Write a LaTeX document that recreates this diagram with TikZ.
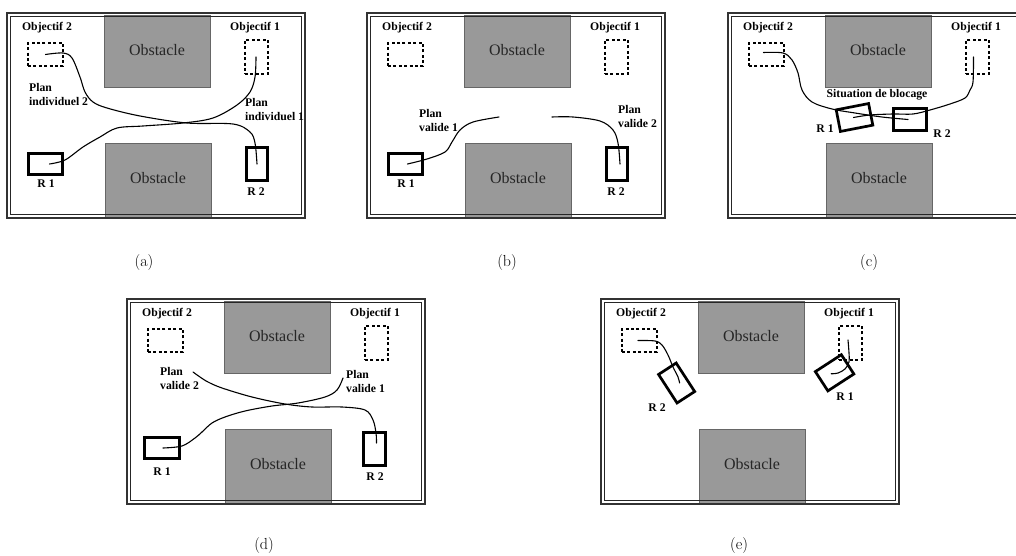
\documentclass[tikz,border=0pt]{standalone}
\usepackage{fontspec}
\newfontfamily\tnr{Liberation Serif}
\tikzset{
  lbl/.style={font=\tnr\bfseries\fontsize{11.7}{14}\selectfont, inner sep=0pt, align=left},
  obsbox/.style={fill=black!40, draw=black!60, line width=0.8pt},
  obstxt/.style={font=\tnr\fontsize{16}{18}\selectfont, text=black!85, inner sep=0pt},
  goal/.style={draw, line width=2.8pt, dash pattern=on 3pt off 2.4pt, inner sep=0pt},
  robot/.style={draw, line width=2.7pt, inner sep=0pt},
  trajet/.style={line width=1.1pt, line join=round, line cap=round},
  legende/.style={font=\fontsize{16}{18}\selectfont, inner sep=0pt}
}
\newcommand\panelbase[3]{%
  \begin{scope}[shift={(#2,#3)}]
    \path[obsbox] (97,2) rectangle (203,74);
    \node[obstxt] (#1obsA) at (150,37) {Obstacle};
    \path[obsbox] (98,130) rectangle (204,204);
    \node[obstxt] (#1obsB) at (151,165) {Obstacle};
    \draw[line width=2pt, black!80] (0,0) rectangle (298,205);
    \draw[line width=0.8pt, black!85] (3.2,3.2) rectangle (294.8,201.8);
    \node[lbl] (#1lo2) at (40,15) {Objectif 2};
    \node[lbl] (#1lo1) at (248,15) {Objectif 1};
    \node[goal, minimum width=35pt, minimum height=23pt] (#1O2) at (38.5,41.5) {};
    \node[goal, minimum width=23pt, minimum height=34pt] (#1O1) at (249.5,44) {};
  \end{scope}}
\begin{document}
\begin{tikzpicture}[x=1pt,y=-1pt]
\useasboundingbox (0,0) rectangle (1016,556);
\clip (0,0) rectangle (1016,556);

% ---------------- (a)
\panelbase{a}{7}{13}
\node[robot, minimum width=34pt, minimum height=21pt] (aR1) at (45.5,164) {};
\node[robot, minimum width=21pt, minimum height=33pt] (aR2) at (257,164) {};
\node[lbl] (aRl1) at (46,184) {R 1};
\node[lbl] (aRl2) at (256,192) {R 2};
\node[lbl, anchor=west] (aP2) at (29,95) {Plan\\individuel 2};
\node[lbl, anchor=west] (aP1) at (245,110) {Plan\\individuel 1};
\draw[trajet] plot[smooth, tension=0.55] coordinates {(aO2.center) (63,53) (72,58) (80,77) (85,92) (93,102) (107,108) (140,116) (187,123) (233,124) (250,132) (255,143) (aR2.center)};
\draw[trajet] plot[smooth, tension=0.55] coordinates {([xshift=4pt]aR1.center) (65,160) (83,147) (100,137) (117,128) (143,126) (183,123) (213,118) (237,105) (250,92) (255,77) ([xshift=-0.5pt]aO1.center)};
\node[legende] (capa) at (144,263) {(a)};

% ---------------- (b)
\panelbase{b}{367}{13}
\node[robot, minimum width=34pt, minimum height=21pt] (bR1) at (405.5,164) {};
\node[robot, minimum width=21pt, minimum height=33pt] (bR2) at (617,164) {};
\node[lbl] (bRl1) at (406,184) {R 1};
\node[lbl] (bRl2) at (616,192) {R 2};
\node[lbl, anchor=west] (bP1) at (419,120) {Plan\\valide 1};
\node[lbl, anchor=west] (bP2) at (618,116) {Plan\\valide 2};
\coordinate (bE1) at (499,117);
\coordinate (bE2) at (552,117);
\draw[trajet] plot[smooth, tension=0.55] coordinates {([xshift=2pt]bR1.center) (427,159) (445,152) (452,142) (460,130) (473,122) (bE1)};
\draw[trajet] plot[smooth, tension=0.55] coordinates {(bE2) (573,117) (600,121) (613,130) (618,143) ([xshift=3pt]bR2.center)};
\node[legende] (capb) at (507,263) {(b)};

% ---------------- (c)
\panelbase{c}{728}{13}
\node[robot, rotate=11, minimum width=33pt, minimum height=22pt] (cR1) at (854.5,117.5) {};
\node[robot, minimum width=33pt, minimum height=22pt] (cR2) at (910,119.5) {};
\node[lbl] (cSit) at (877,95) {Situation de blocage};
\node[lbl] (cRl1) at (825,129) {R 1};
\node[lbl] (cRl2) at (942,134) {R 2};
\draw[trajet] plot[smooth, tension=0.55] coordinates {([xshift=-3pt,yshift=2pt]cO2.center) (783,53) (792,60) (798,73) (802,90) (812,102) (832,109) (855,113) (882,117) ([xshift=-2pt]cR2.center)};
\draw[trajet] plot[smooth, tension=0.55] coordinates {([xshift=-1pt]cR1.center) (870,115) (893,114) (913,114) (930,110) (950,104) (965,98) (970,90) (973,82) ([xshift=-4pt]cO1.center)};
\node[legende] (capc) at (869,263) {(c)};

% ---------------- (d)
\panelbase{d}{127}{299}
\node[robot, minimum width=35pt, minimum height=21pt] (dR1) at (162,448) {};
\node[robot, minimum width=22pt, minimum height=33pt] (dR2) at (374.5,449) {};
\node[lbl] (dRl1) at (162,472) {R 1};
\node[lbl] (dRl2) at (375,477) {R 2};
\node[lbl, anchor=west] (dP2) at (160,378) {Plan\\valide 2};
\node[lbl, anchor=west] (dP1) at (346,381) {Plan\\valide 1};
\coordinate (dE2) at (193,372);
\coordinate (dE1) at (343,378);
\draw[trajet] plot[smooth, tension=0.55] coordinates {(dE2) (200,377) (208,382) (222,388) (252,397) (285,404) (312,407) (342,407) (365,410) (373,420) (376,433) ([xshift=2pt,yshift=6pt]dR2.center)};
\draw[trajet] plot[smooth, tension=0.55] coordinates {([xshift=1pt]dR1.center) (182,446) (195,438) (202,432) (212,423) (225,417) (245,411) (272,406) (298,403) (325,397) (337,390) (dE1)};
\node[legende] (capd) at (264,546) {(d)};

% ---------------- (e)
\panelbase{e}{601}{299}
\node[robot, rotate=33, minimum width=21pt, minimum height=34pt] (eR2) at (676.6,383) {};
\node[robot, rotate=33, minimum width=31pt, minimum height=23pt] (eR1) at (834.6,372.8) {};
\node[lbl] (eRl2) at (657,408) {R 2};
\node[lbl] (eRl1) at (845,397) {R 1};
\draw[trajet] plot[smooth, tension=0.55] coordinates {([xshift=-1.5pt]eO2.center) (655,341) (662,345) (668,355) (673,367) (678,377) ([xshift=3pt]eR2.center)};
\draw[trajet] plot[smooth, tension=0.55] coordinates {([xshift=-2.5pt,yshift=3pt]eO1.center) (849,353) (849,362) (845,369) (838,373) ([xshift=-3.5pt,yshift=-1pt]eR1.center)};
\node[legende] (cape) at (739,546) {(e)};
\end{tikzpicture}
\end{document}
